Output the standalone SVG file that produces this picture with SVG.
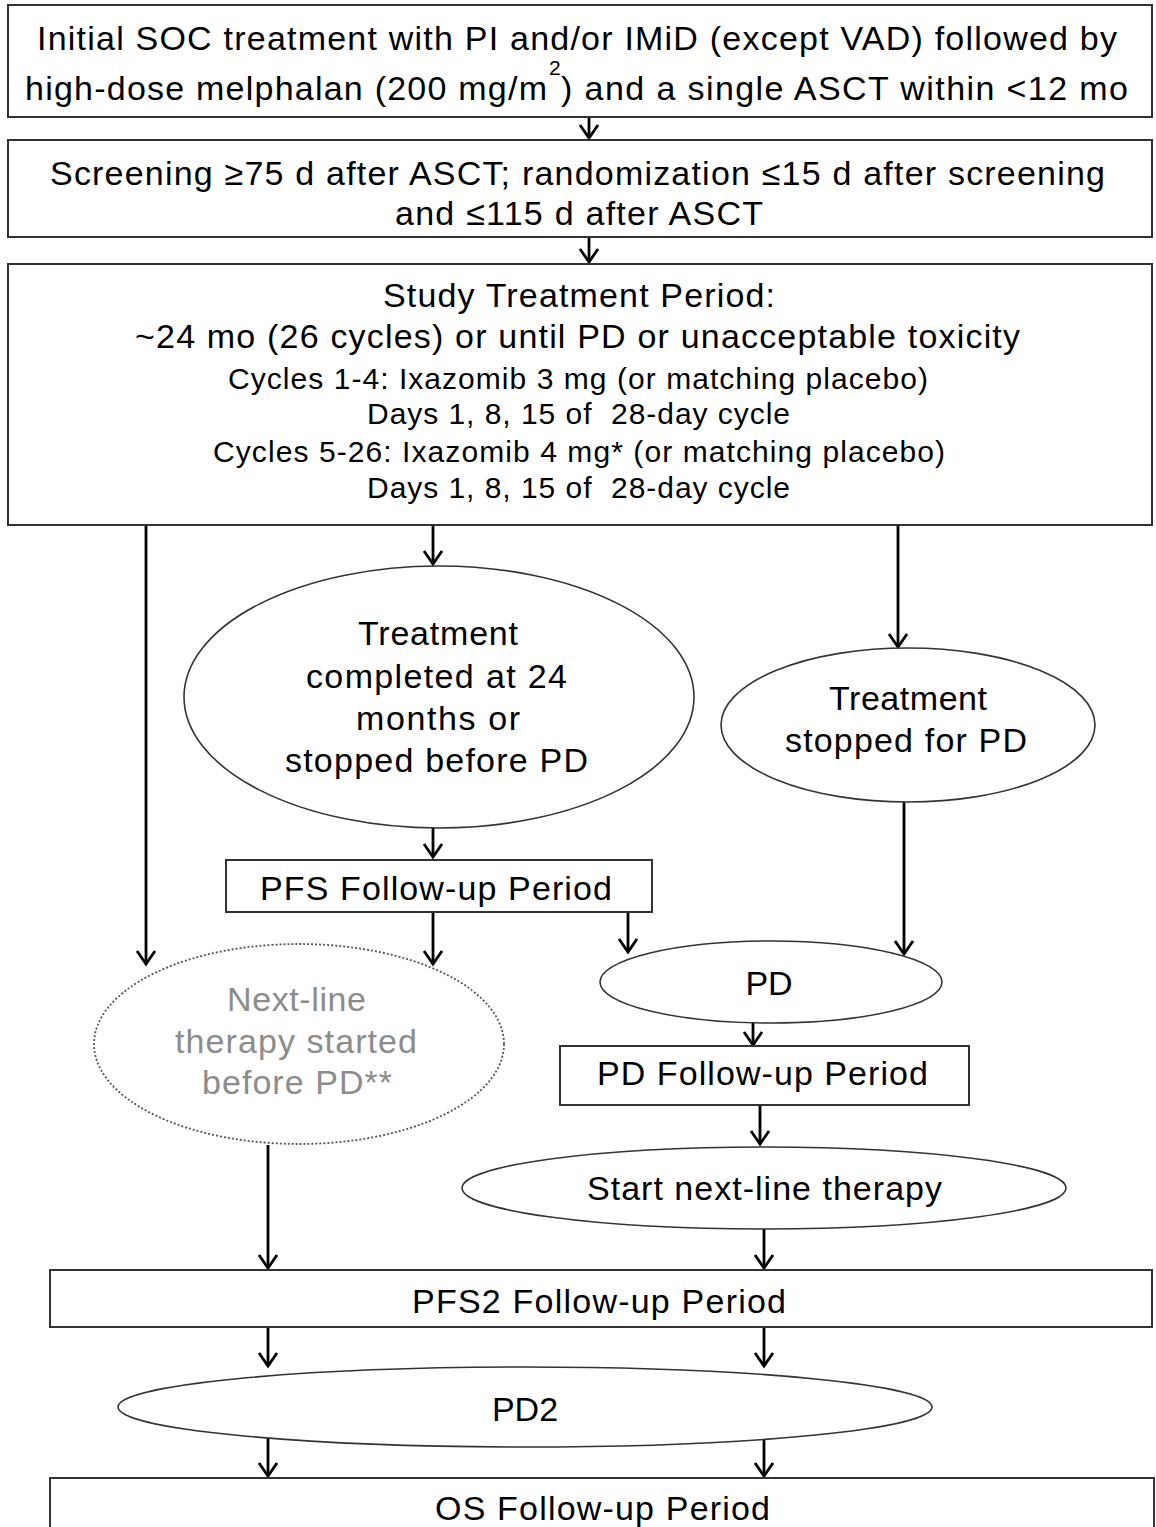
<svg xmlns="http://www.w3.org/2000/svg" width="1156" height="1527" viewBox="0 0 1156 1527">
<style>
.box{fill:#fff;stroke:#333;stroke-width:2}
.ell{fill:#fff;stroke:#333;stroke-width:1.6}
.dash{fill:#fff;stroke:#555;stroke-width:1.8;stroke-dasharray:2 2}
.t{font-family:"Liberation Sans",Arial,sans-serif;font-size:34px;fill:#000}
.s{font-family:"Liberation Sans",Arial,sans-serif;font-size:30px;fill:#000}
.g{font-family:"Liberation Sans",Arial,sans-serif;font-size:34px;fill:#8c8c8c}
.c{fill:none;stroke:#000;stroke-width:2.8}
</style>
<defs>
<marker id="ah" markerUnits="userSpaceOnUse" markerWidth="30" markerHeight="30" viewBox="-15 -15 30 30" refX="0" refY="0" orient="auto">
<path d="M-13,-9 L0,0 L-13,9" fill="none" stroke="#000" stroke-width="2.8"/>
</marker>
</defs>
<rect width="1156" height="1527" fill="#fff"/>
<g id="connectors">
<line class="c" x1="589" y1="117" x2="589" y2="138" marker-end="url(#ah)"/>
<line class="c" x1="589" y1="237" x2="589" y2="262" marker-end="url(#ah)"/>
<line class="c" x1="146" y1="525" x2="146" y2="964" marker-end="url(#ah)"/>
<line class="c" x1="433" y1="525" x2="433" y2="564" marker-end="url(#ah)"/>
<line class="c" x1="898" y1="525" x2="898" y2="647" marker-end="url(#ah)"/>
<line class="c" x1="433" y1="815" x2="433" y2="857" marker-end="url(#ah)"/>
<line class="c" x1="433" y1="912" x2="433" y2="964" marker-end="url(#ah)"/>
<line class="c" x1="628" y1="912" x2="628" y2="952" marker-end="url(#ah)"/>
<line class="c" x1="904" y1="802" x2="904" y2="954" marker-end="url(#ah)"/>
<line class="c" x1="753" y1="1023" x2="753" y2="1045" marker-end="url(#ah)"/>
<line class="c" x1="760" y1="1105" x2="760" y2="1144" marker-end="url(#ah)"/>
<line class="c" x1="764" y1="1229" x2="764" y2="1268" marker-end="url(#ah)"/>
<line class="c" x1="268" y1="1145" x2="268" y2="1268" marker-end="url(#ah)"/>
<line class="c" x1="268" y1="1327" x2="268" y2="1366" marker-end="url(#ah)"/>
<line class="c" x1="764" y1="1327" x2="764" y2="1366" marker-end="url(#ah)"/>
<line class="c" x1="268" y1="1437" x2="268" y2="1476" marker-end="url(#ah)"/>
<line class="c" x1="764" y1="1437" x2="764" y2="1476" marker-end="url(#ah)"/>
</g>
<g id="n1">
<rect class="box" x="8" y="5" width="1144" height="112"/>
<text class="t" x="37" y="50" textLength="1080" lengthAdjust="spacing">Initial SOC treatment with PI and/or IMiD (except VAD) followed by</text>
<text class="t" x="25" y="100">
<tspan textLength="522" lengthAdjust="spacing">high-dose melphalan (200 mg/m</tspan><tspan x="549" y="75" font-size="21">2</tspan><tspan x="561" y="100" textLength="567" lengthAdjust="spacing">) and a single ASCT within &lt;12 mo</tspan>
</text>
</g>
<g id="n2">
<rect class="box" x="8" y="140" width="1144" height="97"/>
<text class="t" x="50" y="185" textLength="1055" lengthAdjust="spacing">Screening ≥75 d after ASCT; randomization ≤15 d after screening</text>
<text class="t" x="395" y="225" textLength="368" lengthAdjust="spacing">and ≤115 d after ASCT</text>
</g>
<g id="n3">
<rect class="box" x="8" y="264" width="1144" height="261"/>
<text class="t" x="383" y="307" textLength="392" lengthAdjust="spacing">Study Treatment Period:</text>
<text class="t" x="135" y="348" textLength="885" lengthAdjust="spacing">~24 mo (26 cycles) or until PD or unacceptable toxicity</text>
<text class="s" x="228" y="389" textLength="700" lengthAdjust="spacing">Cycles 1-4: Ixazomib 3 mg (or matching placebo)</text>
<text class="s" x="367" y="424" textLength="423" lengthAdjust="spacing" xml:space="preserve">Days 1, 8, 15 of  28-day cycle</text>
<text class="s" x="213" y="462" textLength="732" lengthAdjust="spacing">Cycles 5-26: Ixazomib 4 mg* (or matching placebo)</text>
<text class="s" x="367" y="498" textLength="423" lengthAdjust="spacing" xml:space="preserve">Days 1, 8, 15 of  28-day cycle</text>
</g>
<g id="n4">
<ellipse class="ell" cx="439" cy="697" rx="255" ry="131"/>
<text class="t" x="358" y="645" textLength="160" lengthAdjust="spacing">Treatment</text>
<text class="t" x="306" y="688" textLength="261" lengthAdjust="spacing">completed at 24</text>
<text class="t" x="356" y="730" textLength="164" lengthAdjust="spacing">months or</text>
<text class="t" x="285" y="772" textLength="303" lengthAdjust="spacing">stopped before PD</text>
</g>
<g id="n5">
<ellipse class="ell" cx="908" cy="725" rx="187" ry="77"/>
<text class="t" x="829" y="710" textLength="158" lengthAdjust="spacing">Treatment</text>
<text class="t" x="785" y="752" textLength="242" lengthAdjust="spacing">stopped for PD</text>
</g>
<g id="n6">
<rect class="box" x="226" y="860" width="426" height="52"/>
<text class="t" x="260" y="900" textLength="352" lengthAdjust="spacing">PFS Follow-up Period</text>
</g>
<g id="n7">
<ellipse class="dash" cx="299" cy="1044" rx="205" ry="100"/>
<text class="g" x="227" y="1011" textLength="139" lengthAdjust="spacing">Next-line</text>
<text class="g" x="175" y="1053" textLength="242" lengthAdjust="spacing">therapy started</text>
<text class="g" x="202" y="1094" textLength="190" lengthAdjust="spacing">before PD**</text>
</g>
<g id="n8">
<ellipse class="ell" cx="771" cy="982" rx="171" ry="41"/>
<text class="t" x="769" y="995" text-anchor="middle">PD</text>
</g>
<g id="n9">
<rect class="box" x="560" y="1046" width="409" height="59"/>
<text class="t" x="597" y="1085" textLength="331" lengthAdjust="spacing">PD Follow-up Period</text>
</g>
<g id="n10">
<ellipse class="ell" cx="764" cy="1188" rx="302" ry="41"/>
<text class="t" x="587" y="1200" textLength="355" lengthAdjust="spacing">Start next-line therapy</text>
</g>
<g id="n11">
<rect class="box" x="50" y="1270" width="1102" height="57"/>
<text class="t" x="412" y="1313" textLength="374" lengthAdjust="spacing">PFS2 Follow-up Period</text>
</g>
<g id="n12">
<ellipse class="ell" cx="525" cy="1407" rx="407" ry="40"/>
<text class="t" x="525" y="1421" text-anchor="middle">PD2</text>
</g>
<g id="n13">
<rect class="box" x="50" y="1478" width="1104" height="60"/>
<text class="t" x="435" y="1520" textLength="335" lengthAdjust="spacing">OS Follow-up Period</text>
</g>
</svg>
